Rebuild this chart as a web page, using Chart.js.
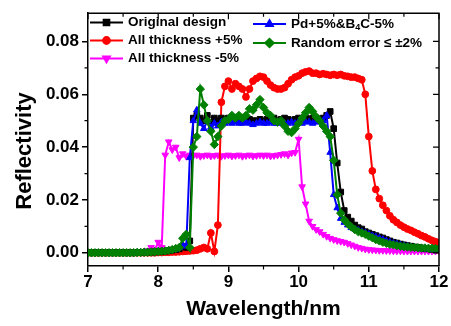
<!DOCTYPE html>
<html>
<head>
<meta charset="utf-8">
<script src="https://cdn.jsdelivr.net/npm/chart.js@4"></script>
<style>
  html, body { margin: 0; padding: 0; background: #fff; }
  #wrap { width: 451px; height: 326px; position: relative; }
</style>
</head>
<body>
<div id="wrap"><canvas id="refl"></canvas></div>
<script>
// wavelength grid (nm)
const wl = [
  7.00,7.05,7.10,7.15,7.20,7.25,7.30,7.35,7.40,7.45,
  7.50,7.55,7.60,7.65,7.70,7.75,7.80,7.85,7.90,7.95,
  8.00,8.05,8.10,8.15,8.20,8.25,8.30,8.35,8.40,8.45,
  8.50,8.55,8.60,8.65,8.70,8.75,8.80,8.85,8.90,8.95,
  9.00,9.05,9.10,9.15,9.20,9.25,9.30,9.35,9.40,9.45,
  9.50,9.55,9.60,9.65,9.70,9.75,9.80,9.85,9.90,9.95,
  10.00,10.05,10.10,10.15,10.20,10.25,10.30,10.35,10.40,10.45,
  10.50,10.55,10.60,10.65,10.70,10.75,10.80,10.85,10.90,10.95,
  11.00,11.05,11.10,11.15,11.20,11.25,11.30,11.35,11.40,11.45,
  11.50,11.55,11.60,11.65,11.70,11.75,11.80,11.85,11.90,11.95,12.00
];

const original = [
  0,0,0,0,0,0,0,0,0,0,
  0,0,0,0,0.0001,0.0001,0.0002,0.0002,0.0003,0.0003,
  0.0004,0.0005,0.0006,0.0008,0.001,0.0012,0.0015,0.0025,0.002,0.0045,
  0.051,0.052,0.051,0.050,0.052,0.049,0.051,0.050,0.051,0.0505,
  0.051,0.0505,0.051,0.0505,0.0505,0.050,0.0505,0.050,0.050,0.0505,
  0.050,0.0505,0.0505,0.051,0.050,0.0505,0.051,0.0505,0.050,0.0505,
  0.051,0.0505,0.051,0.0505,0.051,0.051,0.0505,0.051,0.052,0.0535,
  0.047,0.034,0.023,0.016,0.0135,0.012,0.0105,0.0095,0.009,0.008,
  0.0075,0.007,0.0065,0.006,0.0056,0.005,0.0045,0.004,0.0037,0.0033,
  0.003,0.0027,0.0025,0.0022,0.002,0.0018,0.0016,0.0015,0.0013,0.0012,0.0011
];

const thickPlus5 = [
  0,0,0,0,0,0,0,0,0,0,
  0,0,0,0,0,0,0,0,0,0,
  0.0001,0.0001,0.0002,0.0002,0.0003,0.0003,0.0004,0.0005,0.0006,0.0007,
  0.0008,0.001,0.0015,0.002,0.0015,0.0075,0.0005,0.0105,0.057,0.063,
  0.065,0.062,0.064,0.063,0.062,0.059,0.062,0.065,0.066,0.0668,
  0.0665,0.065,0.0635,0.0625,0.062,0.062,0.0625,0.064,0.0655,0.0665,
  0.067,0.068,0.0685,0.0688,0.068,0.068,0.0675,0.0678,0.0675,0.0672,
  0.0675,0.0672,0.0675,0.067,0.0668,0.0665,0.0665,0.066,0.0655,0.060,
  0.044,0.031,0.024,0.0205,0.018,0.016,0.014,0.0125,0.0115,0.0105,
  0.0097,0.009,0.0085,0.0078,0.0072,0.0065,0.006,0.0053,0.0047,0.0042,0.0037
];

const thickMinus5 = [
  0,0,0,0,0,0,0,0,0,0,
  0,0,0.0001,0.0001,0.0002,0.0003,0.0004,0.0008,0.002,0.001,
  0.004,0.002,0.037,0.042,0.039,0.040,0.036,0.0375,0.0365,0.037,
  0.0368,0.037,0.0365,0.0368,0.037,0.0366,0.0368,0.037,0.0365,0.0368,
  0.037,0.0366,0.0368,0.037,0.0365,0.0368,0.037,0.0366,0.0368,0.037,
  0.0368,0.037,0.0366,0.0368,0.037,0.0372,0.0375,0.037,0.0378,0.038,
  0.043,0.025,0.0185,0.012,0.010,0.0088,0.008,0.007,0.0062,0.0055,
  0.005,0.0046,0.0043,0.004,0.0035,0.003,0.0025,0.002,0.0017,0.0014,
  0.0012,0.0011,0.001,0.0009,0.0009,0.0008,0.0008,0.0007,0.0007,0.0007,
  0.0006,0.0006,0.0006,0.0006,0.0006,0.0006,0.0006,0.0006,0.0006,0.0006,0.0006
];

const pdB4c = [
  0,0,0,0,0,0,0,0,0,0,
  0,0,0,0,0.0001,0.0001,0.0002,0.0002,0.0003,0.0004,
  0.0005,0.0006,0.0007,0.0009,0.0011,0.0014,0.002,0.003,0.0025,0.036,
  0.050,0.054,0.049,0.047,0.050,0.0475,0.049,0.048,0.0495,0.049,
  0.0495,0.049,0.0495,0.049,0.049,0.0495,0.049,0.0485,0.049,0.0495,
  0.049,0.049,0.0495,0.049,0.049,0.0495,0.049,0.049,0.0495,0.049,
  0.0495,0.049,0.0495,0.0495,0.049,0.0495,0.0495,0.050,0.052,0.038,
  0.022,0.017,0.013,0.0115,0.0105,0.0095,0.009,0.0085,0.008,0.0075,
  0.007,0.0065,0.006,0.0055,0.005,0.0045,0.004,0.0036,0.0033,0.003,
  0.0027,0.0025,0.0023,0.0021,0.0019,0.0017,0.0015,0.0014,0.0013,0.0012,0.0011
];

const randomErr = [
  0,0,0,0,0,0,0,0,0,0,
  0,0,0,0,0.0001,0.0001,0.0002,0.0002,0.0003,0.0004,
  0.0005,0.0006,0.0007,0.0009,0.0012,0.0016,0.002,0.0055,0.007,0.002,
  0.040,0.044,0.062,0.056,0.050,0.046,0.041,0.044,0.048,0.050,
  0.0505,0.052,0.051,0.052,0.051,0.052,0.0545,0.054,0.056,0.058,
  0.055,0.053,0.052,0.050,0.0495,0.050,0.048,0.046,0.0455,0.047,
  0.049,0.051,0.053,0.055,0.0535,0.0515,0.050,0.048,0.046,0.044,
  0.035,0.022,0.015,0.0125,0.011,0.0098,0.0088,0.008,0.0075,0.007,
  0.0063,0.0057,0.005,0.0045,0.004,0.0036,0.0032,0.003,0.0027,0.0025,
  0.0023,0.0022,0.0021,0.002,0.0019,0.0018,0.0018,0.0017,0.0017,0.0016,0.0016
];

const xTicks = [7, 8, 9, 10, 11, 12];
const xMinor = [7.5, 8.5, 9.5, 10.5, 11.5];
const yTicks = [0, 0.02, 0.04, 0.06, 0.08];
const yMinor = [0.01, 0.03, 0.05, 0.07];
const yTitle = 'Reflectivity';

const FONT = "'Liberation Sans', Arial, sans-serif";

function mkSet(label, vals, color, style, radius, rot, order) {
  return {
    label: label,
    data: wl.map(function(x, i) { return { x: x, y: vals[i] }; }),
    borderColor: color, backgroundColor: color,
    borderWidth: 2, pointRadius: radius, pointHoverRadius: radius,
    pointStyle: style, pointRotation: rot || 0,
    pointBorderWidth: 1, tension: 0, order: order
  };
}

const datasets = [
  mkSet('Original design', original, '#000000', 'rect', 4, 0, 3),
  mkSet('All thickness +5%', thickPlus5, '#ff0000', 'circle', 3.4, 0, 4),
  mkSet('All thickness -5%', thickMinus5, '#ff00ff', 'triangle', 3.8, 180, 5),
  mkSet('Pd+5%&B4C-5%', pdB4c, '#0000ff', 'triangle', 3.8, 0, 2),
  mkSet('Random error \u2264 \u00b12%', randomErr, '#008000', 'rectRot', 4.2, 0, 1)
];

// minor ticks, mirrored top/right axes, y title
const frameTicks = {
  id: 'frameTicks',
  afterDraw: function(chart) {
    const ctx = chart.ctx, a = chart.chartArea;
    const xs = chart.scales.x, ys = chart.scales.y;
    ctx.save();
    ctx.strokeStyle = '#000';
    ctx.lineWidth = 1.5;
    ctx.beginPath();
    ctx.moveTo(a.left, a.top); ctx.lineTo(a.right, a.top); ctx.lineTo(a.right, a.bottom);
    ctx.stroke();
    ctx.lineWidth = 1.2;
    ctx.beginPath();
    xMinor.forEach(function(v) {
      const px = xs.getPixelForValue(v);
      ctx.moveTo(px, a.bottom); ctx.lineTo(px, a.bottom + 3.5);
      ctx.moveTo(px, a.top); ctx.lineTo(px, a.top + 3.5);
    });
    xTicks.forEach(function(v) {
      const px = xs.getPixelForValue(v);
      ctx.moveTo(px, a.top); ctx.lineTo(px, a.top + 6);
    });
    yMinor.forEach(function(v) {
      const py = ys.getPixelForValue(v);
      ctx.moveTo(a.left, py); ctx.lineTo(a.left - 3.5, py);
      ctx.moveTo(a.right, py); ctx.lineTo(a.right - 3.5, py);
    });
    yTicks.forEach(function(v) {
      const py = ys.getPixelForValue(v);
      ctx.moveTo(a.right, py); ctx.lineTo(a.right - 6, py);
    });
    ctx.stroke();
    // y axis title, sits a bit below the axis centre like the original
    ctx.translate(25, 151);
    ctx.rotate(-Math.PI / 2);
    ctx.fillStyle = '#000';
    ctx.font = 'bold 22px ' + FONT;
    ctx.textAlign = 'center';
    ctx.textBaseline = 'middle';
    ctx.fillText(yTitle, 0, 0);
    ctx.restore();
  }
};

// two-column legend inside the plot
const colLegend = {
  id: 'colLegend',
  afterDraw: function(chart) {
    const ctx = chart.ctx;
    const spots = [
      { ds: 0, x: 90, y: 22.5 },
      { ds: 1, x: 90, y: 40.5 },
      { ds: 2, x: 90, y: 58.5 },
      { ds: 3, x: 253, y: 24 },
      { ds: 4, x: 253, y: 43 }
    ];
    ctx.save();
    spots.forEach(function(s) {
      const d = chart.data.datasets[s.ds];
      ctx.strokeStyle = d.borderColor;
      ctx.fillStyle = d.backgroundColor;
      ctx.lineWidth = 2;
      ctx.beginPath();
      ctx.moveTo(s.x, s.y); ctx.lineTo(s.x + 33, s.y);
      ctx.stroke();
      Chart.helpers.drawPoint(ctx, {
        pointStyle: d.pointStyle, radius: d.pointRadius,
        rotation: d.pointRotation, borderWidth: 1
      }, s.x + 16.5, s.y);
      ctx.fillStyle = '#000';
      ctx.font = 'bold 13.5px ' + FONT;
      ctx.textBaseline = 'middle';
      let tx = s.x + 38;
      if (s.ds === 3) {
        const parts = ['Pd+5%&B', '4', 'C-5%'];
        ctx.fillText(parts[0], tx, s.y);
        tx += ctx.measureText(parts[0]).width;
        ctx.font = 'bold 9px ' + FONT;
        ctx.fillText(parts[1], tx, s.y + 4);
        tx += ctx.measureText(parts[1]).width;
        ctx.font = 'bold 13.5px ' + FONT;
        ctx.fillText(parts[2], tx, s.y);
      } else {
        ctx.fillText(d.label, tx, s.y);
      }
    });
    ctx.restore();
  }
};

new Chart(document.getElementById('refl').getContext('2d'), {
  type: 'line',
  data: { datasets: datasets },
  options: {
    responsive: true, maintainAspectRatio: false, animation: false,
    layout: { padding: { top: 5, right: 12, left: 0, bottom: 0 } },
    plugins: { legend: { display: false }, tooltip: { enabled: false } },
    scales: {
      x: {
        type: 'linear', min: 7, max: 12,
        afterBuildTicks: function(s) { s.ticks = xTicks.map(function(v) { return { value: v }; }); },
        afterFit: function(s) { s.height = 60; },
        grid: { drawOnChartArea: false, tickLength: 6, color: '#000', lineWidth: 1.5 },
        border: { display: true, color: '#000', width: 1.5 },
        ticks: { color: '#000', font: { family: FONT, size: 17, weight: 'bold' }, padding: 0, maxRotation: 0 },
        title: { display: true, text: 'Wavelength/nm', color: '#000', font: { family: FONT, size: 21, weight: 'bold' }, padding: { top: 0, bottom: 4 } }
      },
      y: {
        type: 'linear', min: -0.005, max: 0.0907,
        afterBuildTicks: function(s) { s.ticks = yTicks.map(function(v) { return { value: v }; }); },
        afterFit: function(s) { s.width = 88; },
        grid: { drawOnChartArea: false, tickLength: 6, color: '#000', lineWidth: 1.5 },
        border: { display: true, color: '#000', width: 1.5 },
        ticks: { color: '#000', font: { family: FONT, size: 17, weight: 'bold' }, padding: 3,
          callback: function(v) { return v.toFixed(2); } },
        title: { display: false }
      }
    }
  },
  plugins: [frameTicks, colLegend]
});
</script>
</body>
</html>
